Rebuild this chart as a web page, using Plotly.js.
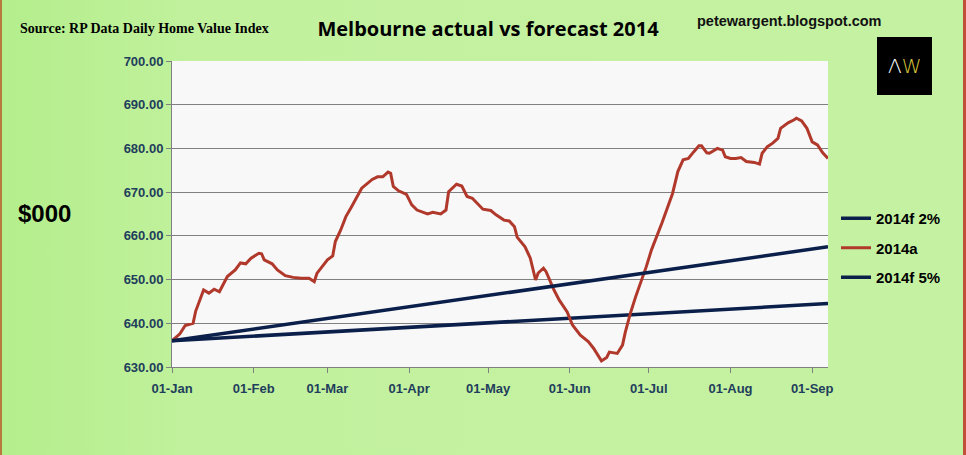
<!DOCTYPE html>
<html>
<head>
<meta charset="utf-8">
<script src="https://cdn.plot.ly/plotly-3.0.1.min.js"></script>
<style>
  html, body { margin: 0; padding: 0; }
  #wrap { position: relative; width: 966px; height: 455px;
          background: linear-gradient(to right, #b4ee8c 0%, #c2f19e 22%, #c5f2a2 100%); }
  #chart { position: absolute; left: 0; top: 0; width: 966px; height: 455px; }
  .edge { position: absolute; top: 0; height: 455px; }
</style>
</head>
<body>
<div id="wrap">
  <div id="chart"></div>
  <div class="edge" style="left:0;width:2px;background:#b8793e;"></div>
  <div class="edge" style="left:963px;width:3px;background:#c0503a;"></div>
</div>
<script>
// ---- data ----
const actualDates = ['2014-01-01','2014-01-04','2014-01-06','2014-01-09','2014-01-10','2014-01-13','2014-01-15','2014-01-17','2014-01-19','2014-01-20','2014-01-22','2014-01-25','2014-01-27','2014-01-29','2014-01-31',
'2014-02-03','2014-02-04','2014-02-05','2014-02-08','2014-02-10','2014-02-13','2014-02-16','2014-02-19','2014-02-22','2014-02-24','2014-02-25',
'2014-03-01','2014-03-03','2014-03-04','2014-03-06','2014-03-08','2014-03-10','2014-03-12','2014-03-14','2014-03-18','2014-03-20','2014-03-22','2014-03-24','2014-03-25','2014-03-26','2014-03-28','2014-03-31',
'2014-04-02','2014-04-04','2014-04-08','2014-04-10','2014-04-13','2014-04-15','2014-04-16','2014-04-19','2014-04-21','2014-04-23','2014-04-25','2014-04-27','2014-04-29',
'2014-05-02','2014-05-04','2014-05-07','2014-05-09','2014-05-11','2014-05-12','2014-05-15','2014-05-17','2014-05-19','2014-05-20','2014-05-22','2014-05-23','2014-05-26','2014-05-28','2014-05-31',
'2014-06-02','2014-06-05','2014-06-08','2014-06-10','2014-06-12','2014-06-13','2014-06-15','2014-06-16','2014-06-19','2014-06-21','2014-06-22','2014-06-24','2014-06-26','2014-06-28','2014-06-30',
'2014-07-02','2014-07-04','2014-07-06','2014-07-10','2014-07-12','2014-07-14','2014-07-16','2014-07-18','2014-07-20','2014-07-21','2014-07-23','2014-07-24','2014-07-27','2014-07-29','2014-07-30',
'2014-08-01','2014-08-03','2014-08-05','2014-08-07','2014-08-10','2014-08-12','2014-08-13','2014-08-15','2014-08-17','2014-08-19','2014-08-20','2014-08-23','2014-08-25','2014-08-26','2014-08-28','2014-08-30',
'2014-09-01','2014-09-03','2014-09-05','2014-09-07'];
const actualValues = [636.0,637.6,639.5,640.0,642.8,647.6,646.9,647.8,647.2,648.3,650.7,652.2,653.8,653.6,654.9,
656.0,655.9,654.5,653.6,652.2,650.9,650.5,650.3,650.3,649.5,651.4,
654.5,655.4,658.7,661.3,664.4,666.5,668.6,670.9,672.9,673.5,673.5,674.6,674.3,671.3,670.3,669.5,
667.1,665.9,665.0,665.4,665.0,665.9,670.1,671.8,671.4,669.0,668.6,667.4,666.1,
665.8,664.8,663.6,663.4,662.1,659.7,657.5,654.9,649.9,651.5,652.6,651.8,647.6,645.3,642.6,
639.6,637.3,635.8,634.3,632.4,631.4,632.2,633.4,633.1,635.0,637.8,642.3,646.1,649.3,652.9,
656.8,659.8,663.0,669.7,674.7,677.4,677.7,679.2,680.6,680.6,679.0,678.9,680.0,679.6,678.1,
677.7,677.7,677.9,677.0,676.8,676.4,678.9,680.4,681.2,682.3,684.6,685.9,686.5,686.9,686.3,684.6,
681.5,680.8,679.0,677.7];
const forecastDates = ['2014-01-01','2014-09-07'];
const forecast2 = [636.0, 644.5];
const forecast5 = [636.0, 657.5];
const seriesNames = ['2014f 2%','2014a','2014f 5%'];
const xRange = ['2014-01-01','2014-09-07'];
const yRange = [630, 700];

// ---- styling ----
const NAVY = '#0b1f4b';
const RED = '#b0392c';
const TICKC = '#1f3e5c';
const tickFont = {family: 'Liberation Sans, Arial, sans-serif', size: 13, color: TICKC, weight: 700};

const traces = [
  {x: forecastDates, y: forecast2, name: seriesNames[0], type: 'scatter', mode: 'lines',
   legendgroup: 'g1', line: {color: NAVY, width: 3.5}},
  {x: actualDates, y: actualValues, name: seriesNames[1], type: 'scatter', mode: 'lines',
   legendgroup: 'g2', line: {color: RED, width: 3}},
  {x: forecastDates, y: forecast5, name: seriesNames[2], type: 'scatter', mode: 'lines',
   legendgroup: 'g3', line: {color: NAVY, width: 3.5}}
];

const L = 172, R = 828, T = 61, B = 367;
const pw = R - L, ph = B - T;
const px = v => (v - L) / pw;
const py = v => (B - v) / ph;

const layout = {
  width: 966, height: 455,
  margin: {l: L, r: 966 - R, t: T, b: 455 - B, pad: 0},
  paper_bgcolor: 'rgba(0,0,0,0)',
  plot_bgcolor: '#f8f8f8',
  showlegend: true,
  title: {text: 'Melbourne actual vs forecast 2014', x: 488 / 966, xref: 'container', xanchor: 'center',
          y: 1 - 29 / 455, yref: 'container', yanchor: 'middle',
          font: {family: 'Open Sans, Liberation Sans, sans-serif', size: 20, color: '#000', weight: 700}},
  xaxis: {type: 'date', range: xRange, tickformat: '%d-%b', dtick: 'M1', tick0: '2014-01-01',
          ticks: 'outside', ticklen: 5, tickcolor: '#808080', tickwidth: 1, ticklabelstandoff: 4,
          showline: true, linecolor: '#808080', linewidth: 1, showgrid: false, zeroline: false,
          tickfont: tickFont, fixedrange: true},
  yaxis: {range: yRange, dtick: 10, tickformat: '.2f', ticks: 'outside', ticklen: 5,
          tickcolor: '#808080', tickwidth: 1, showline: true, linecolor: '#808080', linewidth: 1,
          showgrid: true, gridcolor: '#808080', gridwidth: 1, zeroline: false,
          tickfont: tickFont, fixedrange: true},
  legend: {x: px(836), xanchor: 'left', y: py(202), yanchor: 'top', bgcolor: 'rgba(0,0,0,0)',
           borderwidth: 0, tracegroupgap: 7, traceorder: 'grouped',
           font: {family: 'Liberation Sans, Arial, sans-serif', size: 15, color: '#000', weight: 700}},
  shapes: [
    {type: 'rect', xref: 'paper', yref: 'paper', x0: px(877), x1: px(932), y0: py(95), y1: py(37),
     fillcolor: '#000', line: {width: 0}, layer: 'above'}
  ],
  annotations: [
    {text: 'Source: RP Data Daily Home Value Index', xref: 'paper', yref: 'paper',
     x: px(18), y: py(29), xanchor: 'left', yanchor: 'middle', showarrow: false,
     font: {family: 'Liberation Serif, Times New Roman, serif', size: 14, color: '#000', weight: 700}},
    {text: 'petewargent.blogspot.com', xref: 'paper', yref: 'paper',
     x: px(695), y: py(21), xanchor: 'left', yanchor: 'middle', showarrow: false,
     font: {family: 'Liberation Sans, Arial, sans-serif', size: 14.5, color: '#111', weight: 700}},
    {text: '<span style="color:#ffffff">Λ</span><span style="color:#d8c53c">W</span>', xref: 'paper', yref: 'paper',
     x: px(904.5), y: py(66), xanchor: 'center', yanchor: 'middle', showarrow: false,
     font: {family: 'DejaVu Sans, sans-serif', size: 20, color: '#fff', weight: 300}},
    {text: '$000', xref: 'paper', yref: 'paper',
     x: px(16), y: py(213), xanchor: 'left', yanchor: 'middle', showarrow: false,
     font: {family: 'Liberation Sans, Arial, sans-serif', size: 24, color: '#000', weight: 700}}
  ]
};

Plotly.newPlot('chart', traces, layout, {staticPlot: true, displayModeBar: false});
</script>
</body>
</html>
